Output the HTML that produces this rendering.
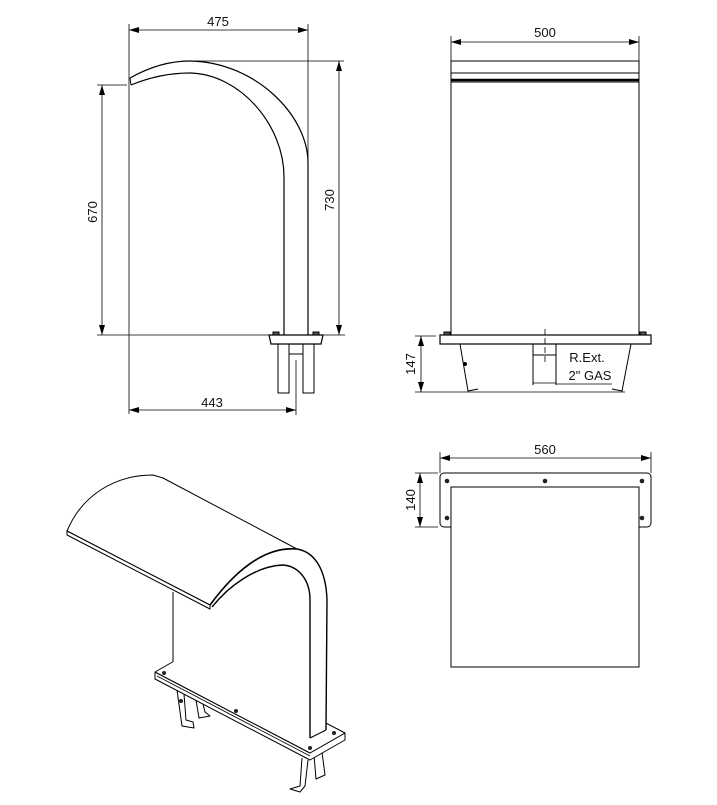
<!DOCTYPE html>
<html><head><meta charset="utf-8"><style>
html,body{margin:0;padding:0;background:#fff}
svg{display:block}
text{font-family:"Liberation Sans",sans-serif;font-size:13px;fill:#111}
</style></head><body>
<svg width="717" height="805" viewBox="0 0 717 805" xmlns="http://www.w3.org/2000/svg">
<defs>
<marker id="a" viewBox="0 0 10 6" refX="10" refY="3" markerWidth="10" markerHeight="6" orient="auto-start-reverse" markerUnits="userSpaceOnUse"><path d="M0,0L10,3L0,6z" fill="#000"/></marker>
</defs>
<g stroke="#000" fill="none" stroke-width="1">
<!-- Side view -->
<line x1="129" y1="24" x2="129" y2="414" stroke-width="0.8"/>
<line x1="308" y1="24" x2="308" y2="163" stroke-width="0.8"/>
<line x1="129" y1="30" x2="308" y2="30" marker-start="url(#a)" marker-end="url(#a)" stroke-width="0.8"/>
<line x1="187" y1="61" x2="344" y2="61" stroke-width="0.8"/>
<line x1="339" y1="61" x2="339" y2="335" marker-start="url(#a)" marker-end="url(#a)" stroke-width="0.8"/>
<line x1="97" y1="85" x2="127" y2="85" stroke-width="0.8"/>
<line x1="102" y1="85" x2="102" y2="335" marker-start="url(#a)" marker-end="url(#a)" stroke-width="0.8"/>
<line x1="97" y1="335" x2="345" y2="335" stroke-width="0.8"/>
<path d="M130,78 Q160,61 190,61 C255,62 308,115 308,163 L308,335" stroke-width="1.2"/>
<path d="M131,85 Q160,73 190,73 C240,74 284,125 284,177 L284,335" stroke-width="1.2"/>
<path d="M130,78 L131,85" />
<path d="M269,335 L323,335 L321,344 L271,344 Z" fill="#fff" stroke-width="1.2"/>
<rect x="273" y="332" width="6" height="3" fill="#555"/>
<rect x="313" y="332" width="6" height="3" fill="#555"/>
<rect x="278" y="344" width="11" height="49"/>
<rect x="303" y="344" width="11" height="49"/>
<line x1="289" y1="354" x2="303" y2="354"/>
<line x1="296" y1="360" x2="296" y2="415" stroke-width="0.8"/>
<line x1="129" y1="410" x2="296" y2="410" marker-start="url(#a)" marker-end="url(#a)" stroke-width="0.8"/>

<!-- Front view -->
<line x1="451" y1="36" x2="451" y2="61" stroke-width="0.8"/>
<line x1="639" y1="36" x2="639" y2="61" stroke-width="0.8"/>
<line x1="451" y1="42" x2="639" y2="42" marker-start="url(#a)" marker-end="url(#a)" stroke-width="0.8"/>
<rect x="451" y="61" width="188" height="21"/>
<line x1="451" y1="73" x2="639" y2="73"/>
<line x1="451" y1="80" x2="639" y2="80" stroke-width="2.5"/>
<line x1="451" y1="82" x2="451" y2="335"/>
<line x1="639" y1="82" x2="639" y2="335"/>
<rect x="440" y="335" width="211" height="9" stroke-width="1.2"/>
<rect x="444" y="332" width="6" height="3" fill="#555"/>
<rect x="640" y="332" width="6" height="3" fill="#555"/>
<path d="M460,344 L468,391 L478,389"/>
<path d="M631,344 L622,391 L612,389"/>
<circle cx="465" cy="364" r="1.5" fill="#000"/>
<rect x="533" y="344" width="23" height="11"/>
<line x1="533" y1="355" x2="533" y2="385"/>
<line x1="556" y1="355" x2="556" y2="385"/>
<line x1="545" y1="329" x2="545" y2="365" stroke-dasharray="6,3" stroke-width="0.8"/>
<line x1="533" y1="383" x2="556" y2="383" stroke-width="0.8"/>
<line x1="556" y1="384" x2="612" y2="384" stroke-width="0.8"/>
<line x1="415" y1="336" x2="436" y2="336" stroke-width="0.8"/>
<line x1="415" y1="392" x2="625" y2="392" stroke-width="0.8"/>
<line x1="421" y1="336" x2="421" y2="392" marker-start="url(#a)" marker-end="url(#a)" stroke-width="0.8"/>

<!-- Top view -->
<line x1="440" y1="452" x2="440" y2="473" stroke-width="0.8"/>
<line x1="651" y1="452" x2="651" y2="473" stroke-width="0.8"/>
<line x1="440" y1="458" x2="651" y2="458" marker-start="url(#a)" marker-end="url(#a)" stroke-width="0.8"/>
<rect x="440" y="473" width="211" height="54" rx="4"/>
<rect x="451" y="487" width="188" height="180" fill="#fff"/>
<line x1="415" y1="473" x2="438" y2="473" stroke-width="0.8"/>
<line x1="415" y1="527" x2="438" y2="527" stroke-width="0.8"/>
<line x1="420" y1="473" x2="420" y2="527" marker-start="url(#a)" marker-end="url(#a)" stroke-width="0.8"/>
</g>
<g fill="#222">
<circle cx="447" cy="481" r="2.3"/><circle cx="545" cy="481" r="2.3"/><circle cx="642" cy="481" r="2.3"/>
<circle cx="447" cy="518" r="2.3"/><circle cx="642" cy="518" r="2.3"/>
</g>

<!-- Isometric -->
<g stroke="#000" fill="#fff" stroke-width="1" stroke-linejoin="round">
<!-- legs -->
<path d="M177,690 L182,726 L194,728 L193,722 L186,720 L184,694" fill="#fff"/>
<path d="M196,700 L199,718 L210,716 L205,712 L203,704" fill="#fff"/>
<path d="M302,758 L300,786 L290,789 L300,792 L305,786 L308,760"/>
<path d="M314,755 L316,779 L325,775 L322,752" fill="#fff"/>
<!-- plate -->
<path d="M155,672 L155,679 L310,760 L345,740 L345,733 L310,753 Z" fill="#fff"/>
<path d="M155,672 L190,652 L345,733 L310,753 Z" fill="#fff"/>
<line x1="157" y1="676" x2="310" y2="756" stroke-width="0.8"/>
<!-- body -->
<path d="M173,592 L173,662 L310,738 L326,730 L327,600 C326,570 315,552 297,549 L163,478 Z" fill="#fff" stroke="none"/>
<line x1="173" y1="592" x2="173" y2="662"/>
<path d="M310,738 L310,600 C310,578 297,566 283,565 C255,566 228,587 212,607" fill="none" stroke-width="1.4"/>
<path d="M326,730 L327,600 C326,570 315,552 297,549" fill="none" stroke-width="1.4"/>
<line x1="310" y1="738" x2="326" y2="730"/>
<path d="M67,531 C82,495 115,475 153,475 L163,478 L297,549 C265,545 232,575 210,605 Z" fill="#fff"/>
<path d="M67,531 L67,535 L210,609 L210,605 Z" fill="#fff"/>
<path d="M210,605 C232,575 262,546 297,549" fill="none" stroke-width="1.6"/>
</g>
<g fill="#222">
<circle cx="164" cy="673" r="2"/><circle cx="236" cy="711" r="2"/><circle cx="334" cy="733" r="2"/><circle cx="310" cy="748" r="2"/><circle cx="181" cy="701" r="2"/>
</g>

<!-- Texts -->
<text x="218" y="26" text-anchor="middle">475</text>
<text x="545" y="37" text-anchor="middle">500</text>
<text x="212" y="407" text-anchor="middle">443</text>
<text x="545" y="454" text-anchor="middle">560</text>
<text x="587" y="362" text-anchor="middle">R.Ext.</text>
<text x="590" y="380" text-anchor="middle">2" GAS</text>
<text transform="translate(97,212) rotate(-90)" text-anchor="middle">670</text>
<text transform="translate(334,200) rotate(-90)" text-anchor="middle">730</text>
<text transform="translate(415,364) rotate(-90)" text-anchor="middle">147</text>
<text transform="translate(415,500) rotate(-90)" text-anchor="middle">140</text>
</svg>
</body></html>
